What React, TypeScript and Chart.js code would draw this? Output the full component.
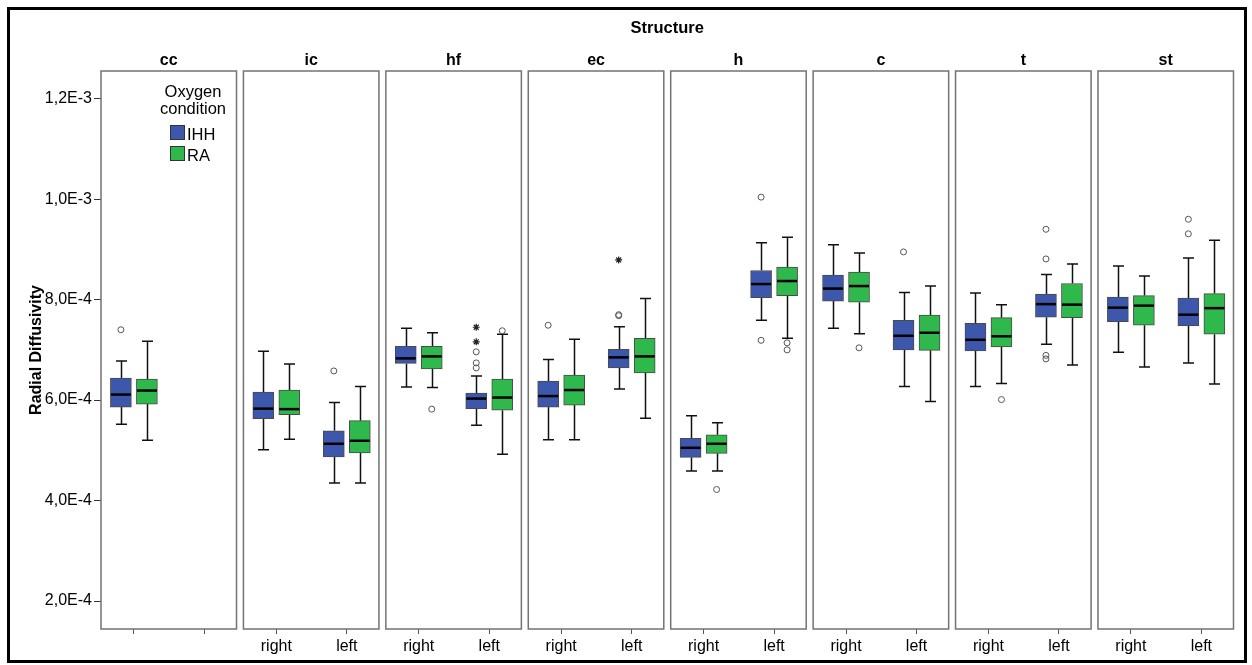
import React, { useEffect, useRef } from 'react';
import { Chart, registerables } from 'chart.js';

Chart.register(...registerables);

// ---------- data (values in units of 1E-4) ----------
const UNIT = 1e-4;
const structures = ['cc', 'ic', 'hf', 'ec', 'h', 'c', 't', 'st'];
const sideLabels = ['right', 'left'];
// groups: cc, ic-right, ic-left, hf-right, hf-left, ec-right, ec-left, h-right, h-left,
//         c-right, c-left, t-right, t-left, st-right, st-left
const groupStructure = [0, 1, 1, 2, 2, 3, 3, 4, 4, 5, 5, 6, 6, 7, 7];
const groupSide = [0, 0, 1, 0, 1, 0, 1, 0, 1, 0, 1, 0, 1, 0, 1];
const conditions = ['IHH', 'RA'];
const yTickValues = [2, 4, 6, 8, 10, 12];
const yTickLabels = ['2,0E-4', '4,0E-4', '6,0E-4', '8,0E-4', '1,0E-3', '1,2E-3'];

// IHH
const ihhLow = [5.52, 5.01, 4.35, 6.26, 5.5, 5.21, 6.22, 4.59, 7.59, 7.43, 6.27, 6.27, 7.11, 6.95, 6.74];
const ihhQ1 = [5.86, 5.63, 4.87, 6.73, 5.83, 5.86, 6.64, 4.86, 8.04, 7.97, 7.0, 6.98, 7.65, 7.56, 7.48];
const ihhMedian = [6.11, 5.83, 5.13, 6.83, 6.03, 6.08, 6.85, 5.05, 8.31, 8.22, 7.28, 7.2, 7.91, 7.84, 7.7];
const ihhQ3 = [6.44, 6.16, 5.39, 7.07, 6.14, 6.38, 7.01, 5.24, 8.58, 8.49, 7.59, 7.53, 8.11, 8.05, 8.03];
const ihhHigh = [6.78, 6.97, 5.95, 7.43, 6.48, 6.81, 7.46, 5.69, 9.13, 9.09, 8.14, 8.13, 8.5, 8.67, 8.83];
const ihhOutlierGroup = [0, 2, 4, 4, 4, 5, 6, 6, 8, 8, 10, 12, 12, 12, 12, 14, 14];
const ihhOutlierValue = [7.4, 6.58, 6.64, 6.74, 6.96, 7.49, 7.68, 7.7, 10.04, 7.19, 8.95, 9.4, 8.81, 6.89, 6.82, 9.6, 9.31];
const ihhExtremeGroup = [4, 4, 6];
const ihhExtremeValue = [7.16, 7.45, 8.79];

// RA
const raLow = [5.2, 5.22, 4.35, 6.25, 4.92, 5.21, 5.64, 4.59, 7.23, 7.32, 5.97, 6.33, 6.7, 6.66, 6.32];
const raQ1 = [5.92, 5.71, 4.95, 6.62, 5.8, 5.9, 6.54, 4.94, 8.08, 7.95, 6.99, 7.06, 7.64, 7.49, 7.31];
const raMedian = [6.19, 5.82, 5.19, 6.87, 6.05, 6.2, 6.87, 5.13, 8.37, 8.27, 7.34, 7.27, 7.9, 7.88, 7.83];
const raQ3 = [6.42, 6.2, 5.59, 7.07, 6.42, 6.5, 7.23, 5.31, 8.65, 8.55, 7.69, 7.64, 8.32, 8.08, 8.12];
const raHigh = [7.17, 6.72, 6.27, 7.34, 7.31, 7.21, 8.02, 5.55, 9.24, 8.93, 8.27, 7.9, 8.71, 8.47, 9.18];
const raOutlierGroup = [3, 4, 7, 8, 8, 9, 11];
const raOutlierValue = [5.82, 7.38, 4.22, 7.14, 7.0, 7.04, 6.01];

// ---------- layout / style ----------
const FONT = "'Liberation Sans', Arial, sans-serif";
const COLORS = ['#3d57ad', '#2fb84b'];
const PANEL_WIDTH = 0.9515;
const SIDE_OFFSET = [0.231, 0.726];
const BOX_OFFSET = 0.0913;
const Y_MIN = 1.443;
const Y_MAX = 12.551;

const stats = [
  { low: ihhLow, q1: ihhQ1, med: ihhMedian, q3: ihhQ3, high: ihhHigh },
  { low: raLow, q1: raQ1, med: raMedian, q3: raQ3, high: raHigh },
];

const groupX = (g: number) => groupStructure[g] + SIDE_OFFSET[groupSide[g]];
const boxX = (g: number, c: number) => groupX(g) + (c === 0 ? -BOX_OFFSET : BOX_OFFSET);

const xTicks: { value: number; label: string }[] = [];
structures.forEach((s, si) =>
  sideLabels.forEach((side, k) => xTicks.push({ value: si + SIDE_OFFSET[k], label: si === 0 ? '' : side }))
);

const boxPlugin = {
  id: 'boxParts',
  beforeDatasetsDraw(chart: any) {
    const { ctx, scales } = chart;
    const x = scales.x, y = scales.y;
    ctx.save();
    ctx.strokeStyle = '#111';
    ctx.lineWidth = 1.5;
    stats.forEach((st, c) => {
      st.low.forEach((_v: number, g: number) => {
        const px = Math.round(x.getPixelForValue(boxX(g, c))) + 0.5;
        const pLo = y.getPixelForValue(st.low[g] * UNIT);
        const pQ1 = y.getPixelForValue(st.q1[g] * UNIT);
        const pQ3 = y.getPixelForValue(st.q3[g] * UNIT);
        const pHi = y.getPixelForValue(st.high[g] * UNIT);
        const cw = 5.5;
        ctx.beginPath();
        ctx.moveTo(px, pHi); ctx.lineTo(px, pQ3);
        ctx.moveTo(px, pQ1); ctx.lineTo(px, pLo);
        ctx.moveTo(px - cw, pHi); ctx.lineTo(px + cw, pHi);
        ctx.moveTo(px - cw, pLo); ctx.lineTo(px + cw, pLo);
        ctx.stroke();
      });
    });
    ctx.restore();
  },
  afterDatasetsDraw(chart: any) {
    const { ctx, scales } = chart;
    const x = scales.x, y = scales.y;
    ctx.save();
    ctx.strokeStyle = '#000';
    ctx.lineWidth = 2.5;
    stats.forEach((st, c) => {
      const meta = chart.getDatasetMeta(c);
      st.med.forEach((m: number, g: number) => {
        const el = meta.data[g];
        const half = (el ? el.width : 21) / 2 - 0.5;
        const px = x.getPixelForValue(boxX(g, c));
        const py = y.getPixelForValue(m * UNIT);
        ctx.beginPath();
        ctx.moveTo(px - half, py);
        ctx.lineTo(px + half, py);
        ctx.stroke();
      });
    });
    ctx.restore();
  },
  afterDraw(chart: any) {
    const { ctx, scales, chartArea } = chart;
    const x = scales.x;
    ctx.save();
    // panels
    ctx.strokeStyle = '#737373';
    ctx.lineWidth = 1.5;
    structures.forEach((s, i) => {
      const x0 = x.getPixelForValue(i);
      const x1 = x.getPixelForValue(i + PANEL_WIDTH);
      ctx.strokeRect(x0, chartArea.top, x1 - x0, chartArea.bottom - chartArea.top);
      ctx.fillStyle = '#000';
      ctx.font = `bold 16px ${FONT}`;
      ctx.textAlign = 'center';
      ctx.textBaseline = 'alphabetic';
      ctx.fillText(s, (x0 + x1) / 2, chartArea.top - 6);
    });
    // overall title
    const left = x.getPixelForValue(0);
    const right = x.getPixelForValue(structures.length - 1 + PANEL_WIDTH);
    ctx.font = `bold 16.5px ${FONT}`;
    ctx.fillText('Structure', (left + right) / 2, 33);
    // legend inside cc panel
    const lx = chartArea.left;
    const ly = chartArea.top;
    ctx.font = `16.5px ${FONT}`;
    ctx.textAlign = 'center';
    ctx.fillText('Oxygen', lx + 92, ly + 26);
    ctx.fillText('condition', lx + 92, ly + 43);
    ctx.textAlign = 'left';
    conditions.forEach((name, c) => {
      const top = ly + 54 + c * 21;
      ctx.fillStyle = COLORS[c];
      ctx.fillRect(lx + 69.5, top + 0.5, 14, 14);
      ctx.strokeStyle = '#333';
      ctx.lineWidth = 1;
      ctx.strokeRect(lx + 69.5, top + 0.5, 14, 14);
      ctx.fillStyle = '#000';
      ctx.fillText(name, lx + 86, top + 14.5);
    });
    // outer frame
    ctx.strokeStyle = '#000';
    ctx.lineWidth = 3;
    ctx.strokeRect(8.5, 8.5, 1237, 653);
    ctx.restore();
  },
};

export default function App() {
  const ref = useRef<HTMLCanvasElement>(null);
  useEffect(() => {
    if (!ref.current) return;
    const barData = (c: number) =>
      stats[c].q1.map((q1: number, g: number) => ({ x: boxX(g, c), y: [q1 * UNIT, stats[c].q3[g] * UNIT] }));
    const pts = (groups: number[], vals: number[], c: number) =>
      groups.map((g, i) => ({ x: boxX(g, c), y: vals[i] * UNIT }));
    const chart = new Chart(ref.current, {
      type: 'bar',
      data: {
        datasets: [
          {
            label: conditions[0],
            data: barData(0) as any,
            backgroundColor: COLORS[0],
            borderColor: '#4a4a4a',
            borderWidth: 1,
            borderSkipped: false,
            barThickness: 21,
            grouped: false,
          } as any,
          {
            label: conditions[1],
            data: barData(1) as any,
            backgroundColor: COLORS[1],
            borderColor: '#4a4a4a',
            borderWidth: 1,
            borderSkipped: false,
            barThickness: 21,
            grouped: false,
          } as any,
          {
            type: 'scatter',
            label: 'IHH outliers',
            data: pts(ihhOutlierGroup, ihhOutlierValue, 0),
            pointStyle: 'circle',
            pointRadius: 3,
            backgroundColor: 'rgba(255,255,255,0)',
            borderColor: '#555',
            borderWidth: 1,
          } as any,
          {
            type: 'scatter',
            label: 'RA outliers',
            data: pts(raOutlierGroup, raOutlierValue, 1),
            pointStyle: 'circle',
            pointRadius: 3,
            backgroundColor: 'rgba(255,255,255,0)',
            borderColor: '#555',
            borderWidth: 1,
          } as any,
          {
            type: 'scatter',
            label: 'IHH extremes',
            data: pts(ihhExtremeGroup, ihhExtremeValue, 0),
            pointStyle: 'star',
            pointRadius: 3.5,
            backgroundColor: '#222',
            borderColor: '#222',
            borderWidth: 1.2,
          } as any,
        ],
      },
      options: {
        responsive: false,
        animation: false,
        events: [],
        layout: { padding: { left: 23, top: 71, right: 11.6, bottom: 0 } },
        plugins: { legend: { display: false }, tooltip: { enabled: false }, title: { display: false } },
        scales: {
          x: {
            type: 'linear',
            min: 0,
            max: structures.length,
            offset: false,
            border: { display: false },
            grid: { offset: false, drawOnChartArea: false, drawTicks: true, tickLength: 5, color: '#555' },
            afterBuildTicks: (scale: any) => {
              scale.ticks = xTicks.map((t) => ({ value: t.value }));
            },
            afterFit: (scale: any) => {
              scale.height = 36;
            },
            ticks: {
              autoSkip: false,
              maxRotation: 0,
              padding: 3,
              color: '#000',
              font: { family: FONT, size: 16 },
              callback: (_v: any, i: number) => xTicks[i].label,
            },
          },
          y: {
            type: 'linear',
            min: Y_MIN * UNIT,
            max: Y_MAX * UNIT,
            border: { display: false },
            grid: { drawOnChartArea: false, drawTicks: true, tickLength: 7, color: '#333' },
            afterBuildTicks: (scale: any) => {
              scale.ticks = yTickValues.map((v) => ({ value: v * UNIT }));
            },
            afterFit: (scale: any) => {
              scale.width = 78;
            },
            ticks: {
              padding: 2,
              color: '#000',
              font: { family: FONT, size: 16 },
              callback: (_v: any, i: number) => yTickLabels[i],
            },
            title: {
              display: true,
              text: 'Radial Diffusivity',
              color: '#000',
              font: { family: FONT, size: 16, weight: 'bold' },
            },
          },
        },
      } as any,
      plugins: [boxPlugin],
    });
    return () => chart.destroy();
  }, []);
  return (
    <div style={{ position: 'fixed', left: 0, top: 0, width: 1252, height: 665, background: '#fff' }}>
      <canvas ref={ref} width={1252} height={665} style={{ display: 'block' }} />
    </div>
  );
}
